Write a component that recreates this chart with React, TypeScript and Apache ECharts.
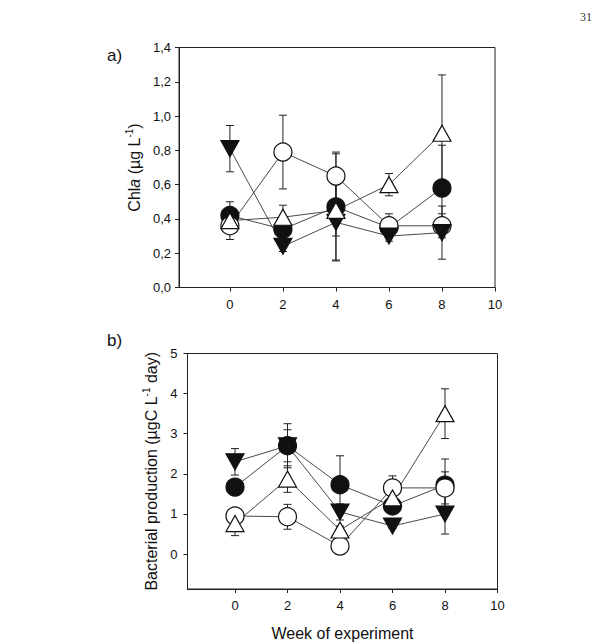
import React, { useEffect, useRef } from "react";
import * as echarts from "echarts";

// Sampling weeks
const weeks = [0, 2, 4, 6, 8];
const xTicks = [0, 2, 4, 6, 8, 10];

// a) Chlorophyll a (µg L-1): means and standard errors
const chlaFilledCircle = [0.42, 0.34, 0.47, 0.35, 0.58];
const chlaFilledCircleErr = [0.08, 0.03, 0.31, 0.03, 0.25];
const chlaOpenCircle = [0.36, 0.79, 0.65, 0.36, 0.36];
const chlaOpenCircleErr = [0.08, 0.215, 0.14, 0.07, 0.07];
const chlaFilledTriangle = [0.81, 0.24, 0.38, 0.3, 0.32];
const chlaFilledTriangleErr = [0.135, 0.03, 0.225, 0.03, 0.155];
const chlaOpenTriangle = [0.39, 0.41, 0.45, 0.6, 0.9];
const chlaOpenTriangleErr = [0.03, 0.07, 0.15, 0.065, 0.34];
const chlaTicks = [0, 0.2, 0.4, 0.6, 0.8, 1.0, 1.2, 1.4];

// b) Bacterial production (µgC L-1 day): means and standard errors
const bpFilledCircle = [1.67, 2.7, 1.73, 1.2, 1.72];
const bpFilledCircleErr = [0.05, 0.55, 0.72, 0.15, 0.65];
const bpOpenCircle = [0.95, 0.93, 0.2, 1.65, 1.65];
const bpOpenCircleErr = [0.1, 0.31, 0.05, 0.3, 0.4];
const bpFilledTriangle = [2.3, 2.7, 1.05, 0.7, 1.0];
const bpFilledTriangleErr = [0.33, 0.4, 0.2, 0.05, 0.5];
const bpOpenTriangle = [0.76, 1.87, 0.6, 1.4, 3.5];
const bpOpenTriangleErr = [0.3, 0.33, 0.1, 0.1, 0.62];
const bpTicks = [0, 1, 2, 3, 4, 5];

const INK = "#111111";
const LINE = "#4a4a4a";
const FONT = "Liberation Sans, Arial, sans-serif";

type Marker = {
  name: string;
  symbol: string;
  rotate: number;
  size: number | number[];
  fill: string;
};

// Drawing order: filled circle, open circle, filled triangle, open triangle
const markers: Marker[] = [
  { name: "filledCircle", symbol: "circle", rotate: 0, size: 18, fill: "#111" },
  { name: "openCircle", symbol: "circle", rotate: 0, size: 18, fill: "#fff" },
  { name: "filledTriangle", symbol: "triangle", rotate: 180, size: [18, 16], fill: "#111" },
  { name: "openTriangle", symbol: "triangle", rotate: 0, size: [18, 16], fill: "#fff" },
];

function pairs(values: number[]) {
  return weeks.map((w, i) => [w, values[i]]);
}

function errTriples(values: number[], errs: number[]) {
  return weeks.map((w, i) => [w, values[i], errs[i]]);
}

function errorBarSeries(idx: number, values: number[], errs: number[]) {
  return {
    type: "custom",
    xAxisIndex: idx,
    yAxisIndex: idx,
    z: 3,
    silent: true,
    encode: { x: 0, y: 1 },
    data: errTriples(values, errs),
    renderItem: (_params: any, api: any) => {
      const x = api.value(0);
      const y = api.value(1);
      const e = api.value(2);
      const top = api.coord([x, y + e]);
      const bot = api.coord([x, y - e]);
      const cap = 4;
      const style = { stroke: "#222", lineWidth: 1 };
      return {
        type: "group",
        children: [
          { type: "line", shape: { x1: top[0], y1: top[1], x2: bot[0], y2: bot[1] }, style },
          { type: "line", shape: { x1: top[0] - cap, y1: top[1], x2: top[0] + cap, y2: top[1] }, style },
          { type: "line", shape: { x1: bot[0] - cap, y1: bot[1], x2: bot[0] + cap, y2: bot[1] }, style },
        ],
      };
    },
  };
}

function panelSeries(idx: number, groups: { values: number[]; errs: number[] }[]) {
  const out: any[] = [];
  groups.forEach((g, k) => {
    out.push({
      type: "line",
      xAxisIndex: idx,
      yAxisIndex: idx,
      data: pairs(g.values),
      symbol: "none",
      z: 2,
      lineStyle: { color: LINE, width: 1 },
      silent: true,
    });
    out.push(errorBarSeries(idx, g.values, g.errs));
    const m = markers[k];
    out.push({
      type: "scatter",
      xAxisIndex: idx,
      yAxisIndex: idx,
      data: pairs(g.values),
      symbol: m.symbol,
      symbolRotate: m.rotate,
      symbolSize: m.size,
      z: 10 + k,
      itemStyle: { color: m.fill, borderColor: "#111", borderWidth: 1.2, opacity: 1 },
      silent: true,
    });
  });
  return out;
}

const axisLineStyle = { onZero: false, lineStyle: { color: "#222", width: 1 } };

export default function App() {
  const ref = useRef<HTMLDivElement>(null);

  useEffect(() => {
    if (!ref.current) return;
    const chart = echarts.init(ref.current, null, { renderer: "svg" });

    const xAxisCommon = (min: number) => ({
      type: "value",
      min,
      max: 10,
      axisLine: { show: true, ...axisLineStyle },
      axisTick: { show: true, inside: false, length: 4, customValues: xTicks, lineStyle: { color: "#222" } },
      axisLabel: {
        customValues: xTicks,
        color: INK,
        fontFamily: FONT,
        fontSize: 13,
        margin: 10,
      },
      splitLine: { show: false },
    });

    chart.setOption({
      animation: false,
      backgroundColor: "#ffffff",
      grid: [
        { left: 179, top: 47.5, width: 316, height: 240, show: true, borderColor: "#222", borderWidth: 1 },
        { left: 187.5, top: 353.5, width: 310, height: 236, show: true, borderColor: "#222", borderWidth: 1 },
      ],
      xAxis: [
        { ...xAxisCommon(-1.92), gridIndex: 0 },
        {
          ...xAxisCommon(-1.81),
          gridIndex: 1,
          name: "Week of experiment",
          nameLocation: "middle",
          nameGap: 36,
          nameTextStyle: { color: INK, fontFamily: FONT, fontSize: 16 },
        },
      ],
      yAxis: [
        {
          type: "value",
          gridIndex: 0,
          min: 0,
          max: 1.4,
          axisLine: { show: true, ...axisLineStyle },
          axisTick: { show: true, length: 4, customValues: chlaTicks, lineStyle: { color: "#222" } },
          axisLabel: {
            customValues: chlaTicks,
            color: INK,
            fontFamily: FONT,
            fontSize: 13,
            margin: 8,
            formatter: (v: number) => v.toFixed(1).replace(".", ","),
          },
          splitLine: { show: false },
          name: "{n|Chl}{i|a}{n| (µg L}{s|-1}{n|)}",
          nameLocation: "middle",
          nameRotate: 90,
          nameGap: 30,
          nameTextStyle: {
            color: INK,
            fontFamily: FONT,
            fontSize: 16,
            rich: {
              n: { fontSize: 16, fontFamily: FONT, color: INK },
              i: { fontSize: 16, fontFamily: FONT, color: INK, fontStyle: "italic" },
              s: { fontSize: 10, fontFamily: FONT, color: INK, padding: [0, 0, 9, 0] },
            },
          },
        },
        {
          type: "value",
          gridIndex: 1,
          min: -0.87,
          max: 5,
          axisLine: { show: true, ...axisLineStyle },
          axisTick: { show: true, length: 4, customValues: bpTicks, lineStyle: { color: "#222" } },
          axisLabel: {
            customValues: bpTicks,
            color: INK,
            fontFamily: FONT,
            fontSize: 13,
            margin: 10,
          },
          splitLine: { show: false },
          name: "{n|Bacterial production (µgC L}{s|-1}{n| day)}",
          nameLocation: "middle",
          nameRotate: 90,
          nameGap: 19,
          nameTextStyle: {
            color: INK,
            fontFamily: FONT,
            fontSize: 16,
            rich: {
              n: { fontSize: 16, fontFamily: FONT, color: INK },
              s: { fontSize: 10, fontFamily: FONT, color: INK, padding: [0, 0, 9, 0] },
            },
          },
        },
      ],
      graphic: [
        { type: "text", x: 107, y: 47, style: { text: "a)", font: `17px ${FONT}`, fill: INK } },
        { type: "text", x: 107, y: 332, style: { text: "b)", font: `17px ${FONT}`, fill: INK } },
        { type: "text", x: 580, y: 11, style: { text: "31", font: "12px 'Liberation Serif', serif", fill: "#333" } },
      ],
      series: [
        ...panelSeries(0, [
          { values: chlaFilledCircle, errs: chlaFilledCircleErr },
          { values: chlaOpenCircle, errs: chlaOpenCircleErr },
          { values: chlaFilledTriangle, errs: chlaFilledTriangleErr },
          { values: chlaOpenTriangle, errs: chlaOpenTriangleErr },
        ]),
        ...panelSeries(1, [
          { values: bpFilledCircle, errs: bpFilledCircleErr },
          { values: bpOpenCircle, errs: bpOpenCircleErr },
          { values: bpFilledTriangle, errs: bpFilledTriangleErr },
          { values: bpOpenTriangle, errs: bpOpenTriangleErr },
        ]),
      ],
    });

    return () => chart.dispose();
  }, []);

  return (
    <div
      ref={ref}
      style={{ position: "fixed", left: 0, top: 0, width: 612, height: 642, background: "#fff" }}
    />
  );
}
